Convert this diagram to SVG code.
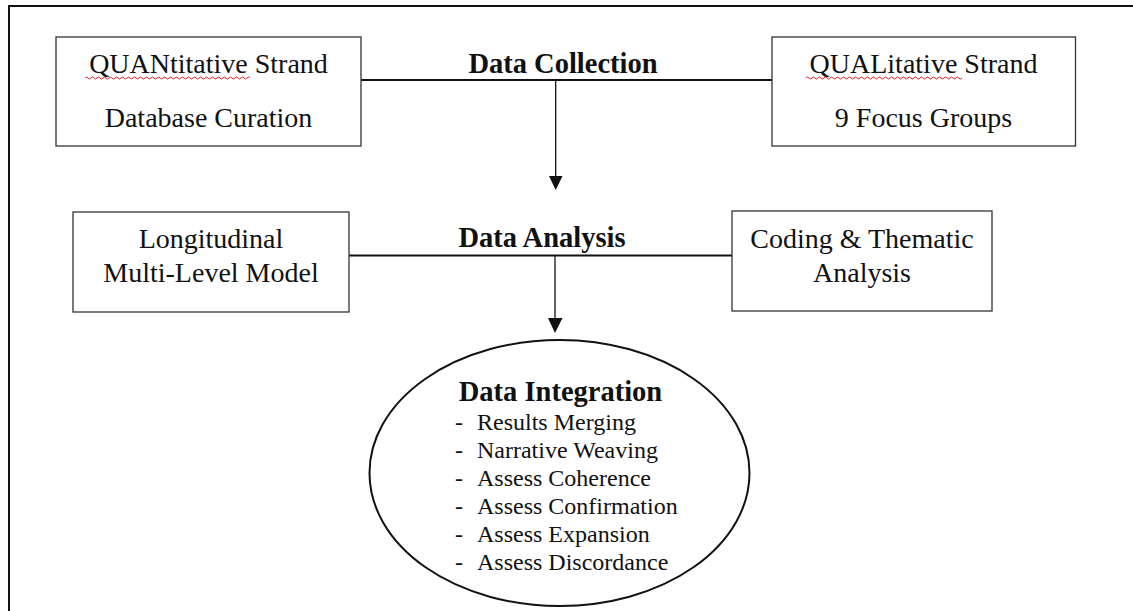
<svg xmlns="http://www.w3.org/2000/svg" width="1133" height="611" viewBox="0 0 1133 611">
<style>
.box{fill:#fff;stroke:#333;stroke-width:1.3}
.t{font-family:"Liberation Serif","Times New Roman",serif;font-size:28px;fill:#111;text-anchor:middle}
.b{font-family:"Liberation Serif","Times New Roman",serif;font-size:28.5px;font-weight:bold;fill:#111;text-anchor:middle}
.li{font-family:"Liberation Serif","Times New Roman",serif;font-size:24px;fill:#111}
.ln{stroke:#111;stroke-width:2;fill:none}
.thin{stroke:#111;stroke-width:1.3;fill:none}
.sq{stroke:#e02020;stroke-width:1;fill:none}
</style>
<rect width="1133" height="611" fill="#fff"/>
<g id="frame">
<line class="ln" x1="9" y1="6" x2="1133" y2="6"/>
<line class="ln" x1="9" y1="5" x2="9" y2="611"/>
</g>
<g id="connectors">
<line class="ln" x1="361" y1="80" x2="772" y2="80"/>
<line class="thin" x1="555.7" y1="80" x2="555.7" y2="177"/>
<polygon points="549,176 562.5,176 555.7,190" fill="#111"/>
<line class="ln" x1="349" y1="255.5" x2="732" y2="255.5"/>
<line class="thin" x1="555" y1="255.5" x2="555" y2="319"/>
<polygon points="548,318 562.5,318 555,333" fill="#111"/>
</g>
<g id="label-collection"><text class="b" x="563" y="72.5">Data Collection</text></g>
<g id="label-analysis"><text class="b" x="542" y="246.5">Data Analysis</text></g>
<g id="quan">
<rect class="box" x="56" y="37" width="305" height="109"/>
<text class="t" x="208.5" y="73">QUANtitative Strand</text>
<path class="sq" d="M85,78 q1.5,-2 3,0 t3,0 t3,0 t3,0 t3,0 t3,0 t3,0 t3,0 t3,0 t3,0 t3,0 t3,0 t3,0 t3,0 t3,0 t3,0 t3,0 t3,0 t3,0 t3,0 t3,0 t3,0 t3,0 t3,0 t3,0 t3,0 t3,0 t3,0 t3,0 t3,0 t3,0 t3,0 t3,0 t3,0 t3,0 t3,0 t3,0 t3,0 t3,0 t3,0 t3,0 t3,0 t3,0 t3,0 t3,0 t3,0 t3,0 t3,0 t3,0 t3,0 t3,0 t3,0 t3,0 t3,0 t3,0"/>
<text class="t" x="208.5" y="127">Database Curation</text>
</g>
<g id="qual">
<rect class="box" x="772" y="37" width="303.5" height="109"/>
<text class="t" x="923.5" y="73">QUALitative Strand</text>
<path class="sq" d="M806,78 q1.5,-2 3,0 t3,0 t3,0 t3,0 t3,0 t3,0 t3,0 t3,0 t3,0 t3,0 t3,0 t3,0 t3,0 t3,0 t3,0 t3,0 t3,0 t3,0 t3,0 t3,0 t3,0 t3,0 t3,0 t3,0 t3,0 t3,0 t3,0 t3,0 t3,0 t3,0 t3,0 t3,0 t3,0 t3,0 t3,0 t3,0 t3,0 t3,0 t3,0 t3,0 t3,0 t3,0 t3,0 t3,0 t3,0 t3,0 t3,0 t3,0 t3,0 t3,0 t3,0 t3,0"/>
<text class="t" x="923.5" y="127">9 Focus Groups</text>
</g>
<g id="longitudinal">
<rect class="box" x="73" y="212" width="276" height="100"/>
<text class="t" x="211" y="248.3">Longitudinal</text>
<text class="t" x="211" y="281.7">Multi-Level Model</text>
</g>
<g id="coding">
<rect class="box" x="732" y="211" width="260" height="100"/>
<text class="t" x="862" y="248.3">Coding &amp; Thematic</text>
<text class="t" x="862" y="281.7">Analysis</text>
</g>
<g id="integration">
<ellipse cx="559.5" cy="473" rx="190" ry="133" fill="#fff" stroke="#111" stroke-width="2"/>
<text class="b" x="560.5" y="400.7">Data Integration</text>
<g class="li">
<text x="455" y="430">-</text><text x="477" y="430">Results Merging</text>
<text x="455" y="458.3">-</text><text x="477" y="458.3">Narrative Weaving</text>
<text x="455" y="486">-</text><text x="477" y="486">Assess Coherence</text>
<text x="455" y="514">-</text><text x="477" y="514">Assess Confirmation</text>
<text x="455" y="542.3">-</text><text x="477" y="542.3">Assess Expansion</text>
<text x="455" y="570">-</text><text x="477" y="570">Assess Discordance</text>
</g>
</g>
</svg>
